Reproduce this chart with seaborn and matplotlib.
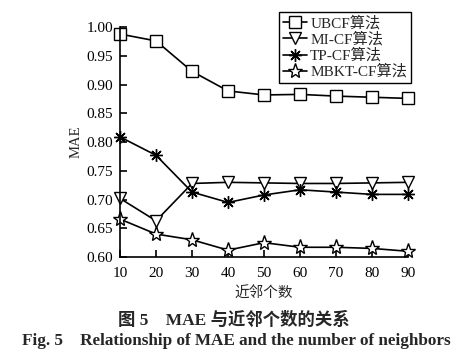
import pandas as pd
import seaborn as sns
import matplotlib.pyplot as plt

# dados
vizinhos = [10, 20, 30, 40, 50, 60, 70, 80, 90]
ubcf = [0.988, 0.976, 0.923, 0.889, 0.882, 0.883, 0.880, 0.878, 0.876]
mi_cf = [0.702, 0.663, 0.728, 0.730, 0.729, 0.728, 0.728, 0.729, 0.730]
tp_cf = [0.809, 0.777, 0.713, 0.695, 0.708, 0.717, 0.713, 0.709, 0.709]
mbkt_cf = [0.666, 0.640, 0.630, 0.612, 0.625, 0.617, 0.617, 0.615, 0.610]
nomes = ['UBCF算法', 'MI-CF算法', 'TP-CF算法', 'MBKT-CF算法']
y_ticks = [0.60, 0.65, 0.70, 0.75, 0.80, 0.85, 0.90, 0.95, 1.00]

sns.set_style('ticks')
plt.rcParams['font.family'] = ['Liberation Serif', 'Noto Sans CJK SC']
plt.rcParams['xtick.direction'] = 'in'
plt.rcParams['ytick.direction'] = 'in'

df = pd.DataFrame({'k': vizinhos * 4,
                   'mae': ubcf + mi_cf + tp_cf + mbkt_cf,
                   'alg': [n for n in nomes for _ in vizinhos]})

fig = plt.figure(figsize=(4.67, 3.57), dpi=100)
ax = fig.add_axes([0.257, 0.280, 0.617, 0.644])

marcadores = {'UBCF算法': 's', 'MI-CF算法': 'v', 'TP-CF算法': (8, 2, 0), 'MBKT-CF算法': '*'}
tamanhos = {'UBCF算法': 8, 'MI-CF算法': 8, 'TP-CF算法': 9, 'MBKT-CF算法': 11}
for nome in nomes:
    sub = df[df['alg'] == nome]
    sns.lineplot(data=sub, x='k', y='mae', ax=ax, color='black', linewidth=1.2,
                 marker=marcadores[nome], markersize=tamanhos[nome],
                 markerfacecolor='white', markeredgecolor='black', markeredgewidth=1.0,
                 label=nome, clip_on=False)

ax.set_xlim(10, 90)
ax.set_ylim(0.60, 1.00)
ax.set_xticks(vizinhos)
ax.set_yticks(y_ticks)
ax.set_yticklabels([f'{v:.2f}' for v in y_ticks])
ax.tick_params(labelsize=11, length=5, width=1.2, colors='black')
ax.tick_params(axis='x', pad=7)
ax.tick_params(axis='y', pad=5)
for lado in ['top', 'right']:
    ax.spines[lado].set_visible(False)
for lado in ['left', 'bottom']:
    ax.spines[lado].set_linewidth(1.2)
    ax.spines[lado].set_color('black')
ax.set_xlabel('近邻个数', fontsize=10.5, labelpad=5)
ax.set_ylabel('MAE', fontsize=10.5, labelpad=3)

leg = ax.legend(loc='upper right', bbox_to_anchor=(1.01, 1.065), fontsize=11,
                frameon=True, fancybox=False, edgecolor='black', framealpha=1,
                handlelength=1.6, handletextpad=0.2, borderpad=0.25, labelspacing=0.1,
                borderaxespad=0)
leg.get_frame().set_linewidth(1.0)

fig.text(0.5, 0.104, '图 5　MAE 与近邻个数的关系', ha='center', va='center',
         fontsize=12.5, fontweight='bold')
fig.text(0.505, 0.045, 'Fig. 5　Relationship of MAE and the number of neighbors',
         ha='center', va='center', fontsize=12.3, fontweight='bold')

fig.savefig('out.png', dpi=100)
